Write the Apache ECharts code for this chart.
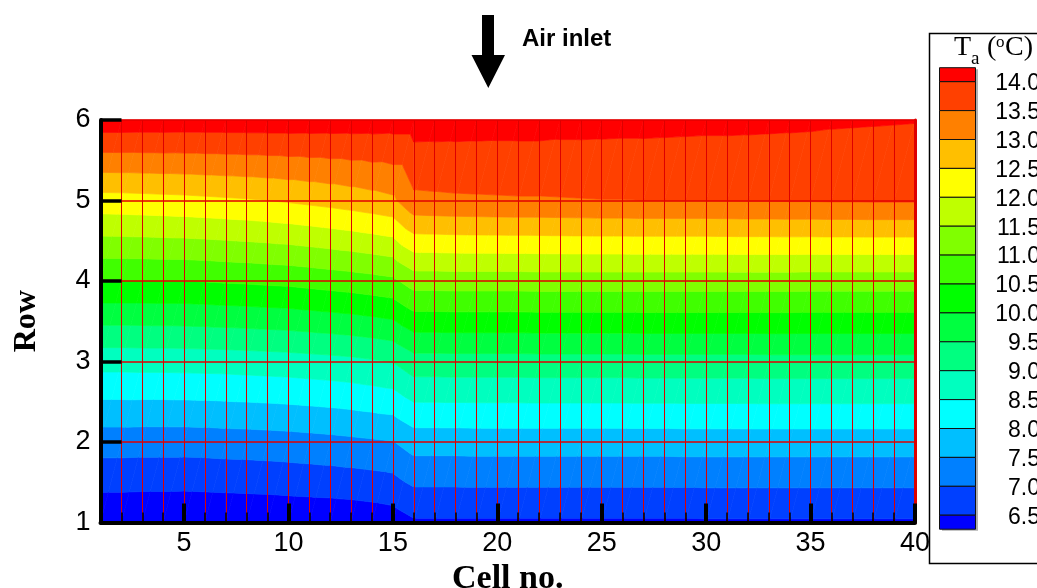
<!DOCTYPE html>
<html><head><meta charset="utf-8">
<script src="https://cdn.jsdelivr.net/npm/echarts@6/dist/echarts.min.js"></script>
<style>html,body{margin:0;padding:0;background:#fff}#c{width:1037px;height:588px}</style>
</head><body><div id="c"></div>
<script>
// ---- data ----
const cells = [1,2,3,4,5,6,7,8,9,10,11,12,13,14,15,16,17,18,19,20,21,22,23,24,25,26,27,28,29,30,31,32,33,34,35,36,37,38,39,40];
const rows = [1,2,3,4,5,6];
const xTickLabels = [5,10,15,20,25,30,35,40];
const yTickLabels = [1,2,3,4,5,6];
const levels = [6.5,7.0,7.5,8.0,8.5,9.0,9.5,10.0,10.5,11.0,11.5,12.0,12.5,13.0,13.5,14.0];
const levelLabels = ['6.5','7.0','7.5','8.0','8.5','9.0','9.5','10.0','10.5','11.0','11.5','12.0','12.5','13.0','13.5','14.0'];
const bandColors = ['#0000ff','#0040ff','#0080ff','#00bfff','#00ffff','#00ffbf','#00ff80','#00ff40','#00ff00','#40ff00','#80ff00','#bfff00','#ffff00','#ffbf00','#ff8000','#ff4000','#ff0000'];
// air temperature (deg C) at each node, one array per row, indexed by cell no.
const taRow1 = [6.06,6.06,6.05,6.05,6.04,6.05,6.06,6.07,6.08,6.10,6.11,6.12,6.14,6.18,6.24,6.43,6.43,6.43,6.43,6.43,6.43,6.43,6.43,6.43,6.43,6.43,6.43,6.43,6.43,6.44,6.44,6.44,6.44,6.44,6.44,6.44,6.44,6.44,6.44,6.44];
const taRow2 = [7.23,7.23,7.22,7.22,7.22,7.23,7.25,7.26,7.28,7.30,7.33,7.36,7.40,7.44,7.48,7.72,7.72,7.72,7.73,7.73,7.73,7.73,7.73,7.73,7.73,7.73,7.73,7.73,7.74,7.74,7.74,7.74,7.74,7.74,7.74,7.74,7.74,7.74,7.74,7.74];
const taRow3 = [8.69,8.69,8.70,8.70,8.71,8.72,8.73,8.75,8.77,8.79,8.82,8.85,8.89,8.95,9.02,9.30,9.30,9.31,9.31,9.31,9.31,9.32,9.32,9.32,9.32,9.32,9.33,9.33,9.33,9.33,9.33,9.33,9.34,9.34,9.34,9.34,9.34,9.34,9.34,9.34];
const taRow4 = [10.49,10.49,10.49,10.50,10.50,10.52,10.55,10.57,10.60,10.62,10.67,10.72,10.77,10.83,10.90,11.23,11.23,11.24,11.24,11.24,11.24,11.25,11.25,11.25,11.25,11.25,11.25,11.25,11.25,11.25,11.25,11.25,11.25,11.25,11.24,11.24,11.24,11.24,11.24,11.24];
const taRow5 = [12.30,12.31,12.33,12.35,12.37,12.40,12.43,12.46,12.50,12.55,12.61,12.67,12.74,12.82,12.91,13.39,13.41,13.43,13.44,13.45,13.46,13.46,13.47,13.48,13.49,13.49,13.50,13.50,13.50,13.50,13.51,13.52,13.52,13.53,13.53,13.54,13.54,13.55,13.55,13.55];
const taRow6 = [14.31,14.31,14.30,14.30,14.29,14.29,14.29,14.29,14.29,14.29,14.28,14.27,14.26,14.25,14.23,14.23,14.22,14.21,14.20,14.19,14.19,14.19,14.17,14.17,14.16,14.15,14.15,14.14,14.13,14.12,14.12,14.11,14.10,14.09,14.08,14.06,14.05,14.04,14.03,14.02];
const taRows = [taRow1, taRow2, taRow3, taRow4, taRow5, taRow6];

// ---- contour band rendering ----
function clipPoly(poly, level, keepAbove) {
  const out = [];
  const n = poly.length;
  for (let k = 0; k < n; k++) {
    const a = poly[k], b = poly[(k + 1) % n];
    const ina = keepAbove ? a[2] >= level : a[2] <= level;
    const inb = keepAbove ? b[2] >= level : b[2] <= level;
    if (ina) out.push(a);
    if (ina !== inb) {
      const t = (level - a[2]) / (b[2] - a[2]);
      out.push([a[0] + t * (b[0] - a[0]), a[1] + t * (b[1] - a[1]), level]);
    }
  }
  return out;
}
const quads = [];
for (let j = 0; j < rows.length - 1; j++)
  for (let i = 0; i < cells.length - 1; i++) quads.push([cells[i], rows[j]]);

function renderQuad(params, api) {
  const i = cells.indexOf(api.value(0)), j = rows.indexOf(api.value(1));
  const corner = (ii, jj) => { const p = api.coord([cells[ii], rows[jj]]); return [p[0], p[1], taRows[jj][ii]]; };
  const A = corner(i, j), B = corner(i + 1, j), C = corner(i + 1, j + 1), D = corner(i, j + 1);
  const tris = [[A, B, C], [A, C, D]];
  const children = [];
  for (const tri of tris) {
    for (let k = 0; k <= levels.length; k++) {
      let poly = tri;
      if (k > 0) poly = clipPoly(poly, levels[k - 1], true);
      if (poly.length >= 3 && k < levels.length) poly = clipPoly(poly, levels[k], false);
      if (poly.length < 3) continue;
      children.push({type: 'polygon', shape: {points: poly.map(p => [p[0], p[1]])},
        style: {fill: bandColors[k], stroke: bandColors[k], lineWidth: 0.7}});
    }
  }
  return {type: 'group', children};
}

// ---- legend (graphic) ----
const legX = 939.5, legW = 36, legTop = 67.7, legHalf = 14, legStep = 28.9;
const graphics = [];
graphics.push({type: 'rect', shape: {x: 929.5, y: 33.5, width: 130, height: 530}, style: {fill: 'none', stroke: '#000', lineWidth: 1.5}, z: 1});
graphics.push({type: 'rect', shape: {x: legX + 2.5, y: legTop + 1.5, width: legW, height: 2 * legHalf + 15 * legStep}, style: {fill: '#b0b0b0'}, z: 2});
for (let k = bandColors.length - 1; k >= 0; k--) {
  const idx = bandColors.length - 1 - k; // 0 = top
  let y0, h;
  if (idx === 0) { y0 = legTop; h = legHalf; }
  else if (k === 0) { y0 = legTop + legHalf + 15 * legStep; h = legHalf; }
  else { y0 = legTop + legHalf + (idx - 1) * legStep; h = legStep; }
  graphics.push({type: 'rect', shape: {x: legX, y: y0, width: legW, height: h}, style: {fill: bandColors[k], stroke: '#111', lineWidth: 1}, z: 3});
}
for (let k = 0; k < levels.length; k++) {
  const y = legTop + legHalf + (levels.length - 1 - k) * legStep;
  graphics.push({type: 'text', x: 1040, y: y + 2, style: {text: levelLabels[k], fill: '#000', font: '23px "Liberation Sans", Arial, sans-serif', align: 'right', verticalAlign: 'middle'}, z: 3});
}
const serif = '"Liberation Serif", "Times New Roman", serif';
graphics.push({type: 'text', x: 954, y: 48, style: {text: 'T', fill: '#000', font: '28px ' + serif, verticalAlign: 'middle'}, z: 3});
graphics.push({type: 'text', x: 971, y: 59, style: {text: 'a', fill: '#000', font: '19px ' + serif, verticalAlign: 'middle'}, z: 3});
graphics.push({type: 'text', x: 987, y: 48, style: {text: '(', fill: '#000', font: '28px ' + serif, verticalAlign: 'middle'}, z: 3});
graphics.push({type: 'text', x: 996, y: 43, style: {text: 'o', fill: '#000', font: '17px ' + serif, verticalAlign: 'middle'}, z: 3});
graphics.push({type: 'text', x: 1005, y: 48, style: {text: 'C)', fill: '#000', font: '28px ' + serif, verticalAlign: 'middle'}, z: 3});
// air inlet arrow + label
graphics.push({type: 'polygon', shape: {points: [[482, 15], [494, 15], [494, 55], [505, 55], [488.3, 88], [471.5, 55], [482, 55]]}, style: {fill: '#000'}, z: 3});
graphics.push({type: 'text', x: 522, y: 39, style: {text: 'Air inlet', fill: '#000', font: 'bold 24px "Liberation Sans", Arial, sans-serif', verticalAlign: 'middle'}, z: 3});

const chart = echarts.init(document.getElementById('c'), null, {renderer: 'canvas'});
const redGridX = {show: true, showMinLine: false, showMaxLine: true, lineStyle: {color: '#dd0000', width: 1}};
const redGridY = {show: true, showMinLine: false, showMaxLine: true, lineStyle: {color: '#e00000', width: 1.5}};
chart.setOption({
  animation: false,
  backgroundColor: '#fff',
  grid: {left: 100.5, right: 122, top: 120, bottom: 65.5, containLabel: false, outerBoundsMode: 'none'},
  xAxis: [
    {type: 'value', min: 1, max: 40, interval: 1, position: 'bottom', z: 5,
     axisLine: {show: true, onZero: false, lineStyle: {color: '#000', width: 4}},
     axisTick: {show: true, inside: true, length: 10, lineStyle: {color: '#000', width: 1.5}},
     axisLabel: {show: false}, splitLine: redGridX},
    {type: 'value', min: 1, max: 40, position: 'bottom', z: 6,
     axisLine: {show: false, onZero: false},
     axisTick: {show: true, inside: true, length: 19, customValues: xTickLabels, lineStyle: {color: '#000', width: 4}},
     axisLabel: {show: true, customValues: xTickLabels, margin: 8, color: '#000', fontSize: 27, fontFamily: '"Liberation Sans", Arial, sans-serif'},
     splitLine: {show: false},
     name: 'Cell no.', nameLocation: 'middle', nameGap: 36,
     nameTextStyle: {color: '#000', fontSize: 34, fontWeight: 'bold', fontFamily: serif}}
  ],
  yAxis: [
    {type: 'value', min: 1, max: 6, interval: 1, position: 'left', z: 7,
     axisLine: {show: true, onZero: false, lineStyle: {color: '#000', width: 4}},
     axisTick: {show: true, inside: true, length: 21, lineStyle: {color: '#000', width: 3.5}},
     axisLabel: {show: true, margin: 10, color: '#000', fontSize: 27, fontFamily: '"Liberation Sans", Arial, sans-serif'},
     splitLine: redGridY,
     name: 'Row', nameLocation: 'middle', nameGap: 58, nameRotate: 90,
     nameTextStyle: {color: '#000', fontSize: 32, fontWeight: 'bold', fontFamily: serif}},
    {type: 'value', min: 1, max: 6, position: 'right', z: 5,
     axisLine: {show: true, onZero: false, lineStyle: {color: '#dd0000', width: 3}},
     axisTick: {show: false}, axisLabel: {show: false}, splitLine: {show: false}}
  ],
  series: [{
    type: 'custom', xAxisIndex: 0, yAxisIndex: 0, coordinateSystem: 'cartesian2d',
    data: quads, renderItem: renderQuad, silent: true, z: 2
  }],
  graphic: {elements: graphics}
});
</script></body></html>
